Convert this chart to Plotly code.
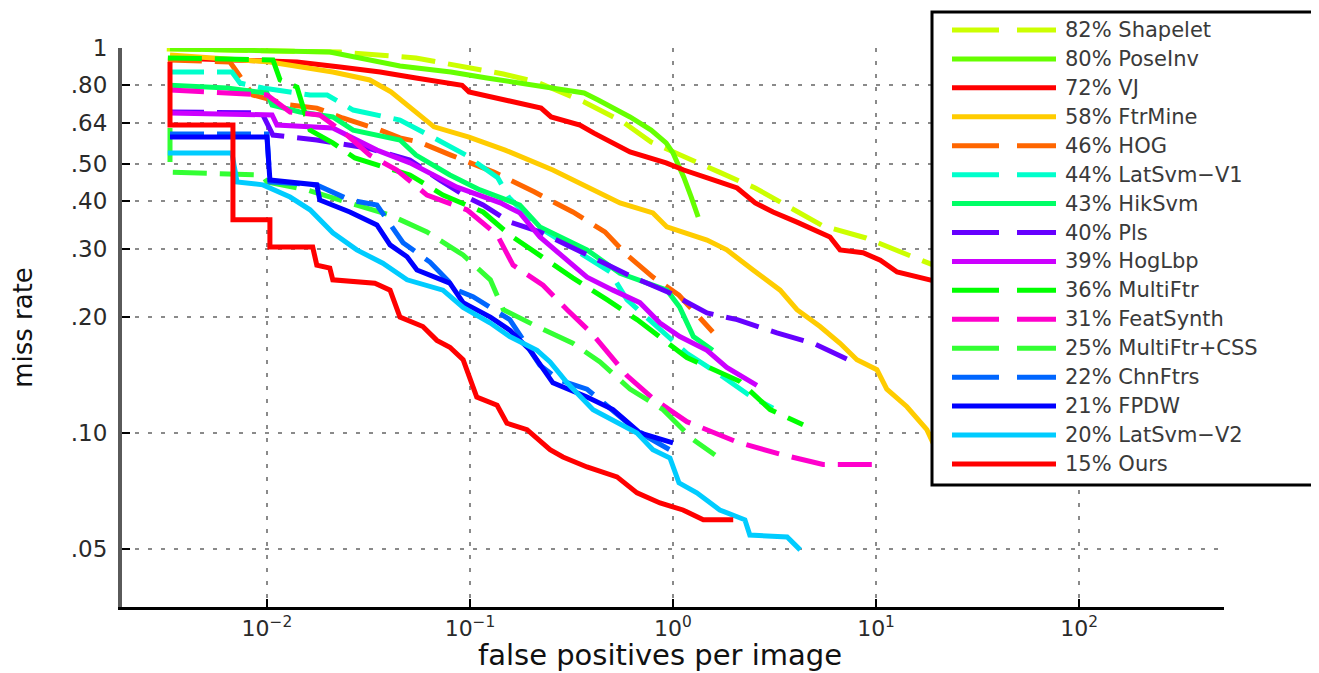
import plotly.graph_objects as go

# ---------------- data ----------------
methods = ["Shapelet", "PoseInv", "VJ", "FtrMine", "HOG", "LatSvm\u2212V1", "HikSvm", "Pls",
           "HogLbp", "MultiFtr", "FeatSynth", "MultiFtr+CSS", "ChnFtrs", "FPDW", "LatSvm\u2212V2", "Ours"]
avg_miss = [82, 80, 72, 58, 46, 44, 43, 40, 39, 36, 31, 25, 22, 21, 20, 15]
colors = ["#ccff00", "#66ff00", "#ff0000", "#ffcc00", "#ff6600", "#00ffcc", "#00ff66", "#6600ff",
          "#cc00ff", "#00ff00", "#ff00cc", "#33ff33", "#0066ff", "#0000ff", "#00ccff", "#ff0000"]
dashed = [True, False, False, False, True, True, False, True,
          False, True, True, True, True, False, False, False]

shapelet_fppi = [0.00321, 0.0229, 0.0542, 0.146, 0.214, 0.365, 0.568, 0.780, 1.69, 2.54, 3.65, 5.48, 8.93, 19.5]
shapelet_mr = [0.994, 0.976, 0.942, 0.856, 0.816, 0.724, 0.642, 0.570, 0.476, 0.433, 0.389, 0.345, 0.321, 0.272]

poseinv_fppi = [0.00333, 0.0204, 0.0452, 0.0805, 0.121, 0.198, 0.365, 0.428, 0.614, 0.780, 0.925, 1.00, 1.13, 1.23, 1.33]
poseinv_mr = [0.995, 0.976, 0.898, 0.866, 0.836, 0.801, 0.764, 0.733, 0.662, 0.612, 0.567, 0.534, 0.462, 0.410, 0.364]

vj_fppi = [0.00333, 0.01406, 0.0229, 0.0361, 0.0542, 0.0914, 0.0989, 0.149, 0.224, 0.251, 0.348, 0.408, 0.501, 0.614,
           0.925, 1.13, 1.69, 2.07, 2.54, 3.11, 4.08, 4.90, 5.93, 6.65, 8.63, 10.5, 12.7, 19.5]
vj_mr = [0.942, 0.920, 0.893, 0.866, 0.836, 0.800, 0.769, 0.733, 0.698, 0.662, 0.631, 0.601, 0.567, 0.537,
         0.503, 0.482, 0.449, 0.433, 0.396, 0.375, 0.353, 0.337, 0.323, 0.299, 0.294, 0.281, 0.262, 0.248]

ftrmine_fppi = [0.00333, 0.01034, 0.0211, 0.0321, 0.0408, 0.0542, 0.0665, 0.0989, 0.149, 0.256, 0.377, 0.548, 0.796,
                0.933, 1.47, 1.84, 2.48, 3.37, 4.08, 5.30, 6.65, 8.05, 10.1, 11.3, 14.2, 17.8, 19.5]
ftrmine_mr = [0.959, 0.920, 0.866, 0.826, 0.769, 0.678, 0.624, 0.587, 0.543, 0.482, 0.435, 0.396, 0.373,
              0.343, 0.317, 0.299, 0.265, 0.235, 0.209, 0.189, 0.171, 0.155, 0.146, 0.130, 0.117, 0.102, 0.092]

hog_fppi = [0.00325, 0.00657, 0.00712, 0.00853, 0.0130, 0.0176, 0.0236, 0.0361, 0.0452, 0.0561, 0.0805, 0.131,
            0.207, 0.321, 0.462, 0.593, 0.796, 1.07, 1.57]
hog_mr = [0.931, 0.920, 0.866, 0.755, 0.711, 0.698, 0.658, 0.612, 0.584, 0.570, 0.527, 0.476,
          0.423, 0.375, 0.333, 0.290, 0.254, 0.228, 0.183]

latsvm1_fppi = [0.00333, 0.00672, 0.00736, 0.00956, 0.0163, 0.0198, 0.0266, 0.0452, 0.0665, 0.0955, 0.137, 0.156,
                0.221, 0.377, 0.490, 0.593, 0.834, 1.17, 1.76, 2.39, 3.11]
latsvm1_mr = [0.866, 0.866, 0.811, 0.787, 0.755, 0.755, 0.690, 0.650, 0.584, 0.527, 0.460, 0.408,
              0.341, 0.287, 0.262, 0.222, 0.189, 0.161, 0.140, 0.125, 0.116]

hiksvm_fppi = [0.00333, 0.00635, 0.0100, 0.0106, 0.01455, 0.0211, 0.0266, 0.0452, 0.0542, 0.0796, 0.112, 0.176,
               0.221, 0.377, 0.548, 0.933, 1.08, 1.26, 1.57]
hiksvm_mr = [0.800, 0.787, 0.764, 0.711, 0.682, 0.662, 0.612, 0.577, 0.527, 0.468, 0.428, 0.391,
             0.343, 0.299, 0.260, 0.235, 0.212, 0.178, 0.164]

pls_fppi = [0.00333, 0.00657, 0.00945, 0.0107, 0.0176, 0.0311, 0.0506, 0.0711, 0.0966, 0.116, 0.157, 0.221,
            0.361, 0.635, 0.966, 1.47, 2.07, 3.25, 4.90, 7.71]
pls_mr = [0.682, 0.682, 0.678, 0.594, 0.577, 0.550, 0.512, 0.454, 0.410, 0.391, 0.353, 0.333,
          0.294, 0.254, 0.231, 0.205, 0.197, 0.182, 0.171, 0.153]

hoglbp_fppi = [0.00333, 0.0106, 0.0112, 0.0211, 0.0348, 0.0506, 0.0863, 0.141, 0.176, 0.221, 0.287, 0.377,
               0.506, 0.687, 0.863, 1.08, 1.47, 1.84, 2.59]
hoglbp_mr = [0.678, 0.670, 0.631, 0.620, 0.543, 0.503, 0.435, 0.396, 0.373, 0.323, 0.287, 0.254,
             0.235, 0.218, 0.193, 0.178, 0.164, 0.148, 0.133]

multiftr_fppi = [0.00325, 0.0107, 0.0116, 0.01406, 0.0163, 0.0211, 0.0271, 0.0506, 0.0736, 0.116, 0.157, 0.229,
                 0.321, 0.473, 0.665, 0.834, 1.17, 2.14, 3.01, 4.37]
multiftr_mr = [0.942, 0.931, 0.826, 0.792, 0.612, 0.567, 0.518, 0.468, 0.415, 0.375, 0.327, 0.285,
               0.253, 0.222, 0.197, 0.180, 0.157, 0.136, 0.115, 0.105]

featsynth_fppi = [0.00333, 0.0100, 0.0130, 0.0182, 0.0248, 0.0321, 0.0436, 0.0614, 0.0966, 0.136, 0.163, 0.229,
                  0.301, 0.404, 0.593, 0.796, 1.17, 2.07, 3.48, 5.48, 9.66]
featsynth_mr = [0.778, 0.755, 0.682, 0.670, 0.594, 0.527, 0.482, 0.415, 0.380, 0.327, 0.273, 0.242,
                0.209, 0.180, 0.141, 0.123, 0.107, 0.0947, 0.0877, 0.0828, 0.0828]

multiftrcss_fppi = [0.00333, 0.00333, 0.00945, 0.0100, 0.0157, 0.0256, 0.0404, 0.0614, 0.0925, 0.126, 0.146,
                    0.214, 0.321, 0.437, 0.614, 0.894, 1.26, 1.61]
multiftrcss_mr = [0.620, 0.476, 0.468, 0.449, 0.428, 0.396, 0.368, 0.333, 0.290, 0.250, 0.209,
                  0.189, 0.171, 0.153, 0.130, 0.115, 0.0960, 0.0877]

chnftrs_fppi = [0.00333, 0.0100, 0.01034, 0.0176, 0.0256, 0.0348, 0.0468, 0.0635, 0.0863, 0.1035, 0.157, 0.221,
                0.277, 0.377, 0.614, 0.745, 1.07]
chnftrs_mr = [0.598, 0.598, 0.449, 0.441, 0.403, 0.391, 0.312, 0.278, 0.235, 0.226, 0.197, 0.150,
              0.137, 0.130, 0.105, 0.0977, 0.0877]

fpdw_fppi = [0.00333, 0.0100, 0.01034, 0.0176, 0.0182, 0.0256, 0.0348, 0.0404, 0.0490, 0.0548, 0.0796, 0.0925,
             0.126, 0.157, 0.198, 0.256, 0.377, 0.506, 0.687, 1.00]
fpdw_mr = [0.587, 0.587, 0.454, 0.441, 0.403, 0.375, 0.347, 0.308, 0.287, 0.265, 0.245, 0.218,
           0.200, 0.185, 0.164, 0.135, 0.124, 0.115, 0.100, 0.0942]

latsvm2_fppi = [0.00325, 0.00672, 0.00712, 0.00956, 0.0130, 0.0163, 0.0211, 0.0277, 0.0372, 0.0490, 0.0736, 0.0925,
                0.126, 0.157, 0.214, 0.248, 0.301, 0.404, 0.665, 0.796, 0.966, 1.07, 1.31, 1.70, 2.26, 2.39, 3.65, 4.23]
latsvm2_mr = [0.534, 0.534, 0.449, 0.441, 0.410, 0.380, 0.331, 0.299, 0.276, 0.250, 0.235, 0.212,
              0.193, 0.178, 0.164, 0.153, 0.135, 0.115, 0.100, 0.0905, 0.0861, 0.0742, 0.0699, 0.0631, 0.0595,
              0.0543, 0.0537, 0.0497]

ours_fppi = [0.00333, 0.00333, 0.00680, 0.00680, 0.01034, 0.01034, 0.0168, 0.0176, 0.0204, 0.0211, 0.0340, 0.0404,
             0.0452, 0.0586, 0.0687, 0.0796, 0.0925, 0.108, 0.136, 0.152, 0.191, 0.248, 0.287, 0.377, 0.530, 0.665,
             0.863, 1.12, 1.41, 1.98]
ours_mr = [0.920, 0.631, 0.631, 0.358, 0.358, 0.304, 0.304, 0.273, 0.268, 0.250, 0.245, 0.235,
           0.200, 0.189, 0.174, 0.167, 0.155, 0.124, 0.118, 0.106, 0.102, 0.0905, 0.0866, 0.0816, 0.0769, 0.0699,
           0.0658, 0.0631, 0.0595, 0.0595]

xtick_vals = [0.01, 0.1, 1, 10, 100]
xtick_text = ["10<sup>\u22122</sup>", "10<sup>\u22121</sup>", "10<sup>0</sup>", "10<sup>1</sup>", "10<sup>2</sup>"]
ytick_vals = [0.05, 0.10, 0.20, 0.30, 0.40, 0.50, 0.64, 0.80, 1.0]
ytick_text = [".05", ".10", ".20", ".30", ".40", ".50", ".64", ".80", "1"]
x_title = "false positives per image"
y_title = "miss rate"

series_x = [shapelet_fppi, poseinv_fppi, vj_fppi, ftrmine_fppi, hog_fppi, latsvm1_fppi, hiksvm_fppi, pls_fppi,
            hoglbp_fppi, multiftr_fppi, featsynth_fppi, multiftrcss_fppi, chnftrs_fppi, fpdw_fppi, latsvm2_fppi,
            ours_fppi]
series_y = [shapelet_mr, poseinv_mr, vj_mr, ftrmine_mr, hog_mr, latsvm1_mr, hiksvm_mr, pls_mr,
            hoglbp_mr, multiftr_mr, featsynth_mr, multiftrcss_mr, chnftrs_mr, fpdw_mr, latsvm2_mr, ours_mr]

# ---------------- figure ----------------
FONT = "DejaVu Sans"
PLOT_DASH = "34px,13px"
LEG_DASH = "47px,18px"

# the page body adds an 8px margin at top/left; the figure reaches the window's right/bottom edges
PAGE = 8
W, H = 1319 - PAGE, 673 - PAGE
ML, MT = 122 - PAGE, 48 - PAGE
MR, MB = W - (1224 - PAGE), H - (607 - PAGE)
pw, ph = W - ML - MR, H - MT - MB


def px2paper_x(px):
    # px given in window pixels
    return (px - PAGE - ML) / pw


def px2paper_y(py):
    return (H - MB - (py - PAGE)) / ph


fig = go.Figure()
for i in range(len(methods)):
    fig.add_trace(go.Scatter(
        x=series_x[i], y=series_y[i], mode="lines",
        name=f"{avg_miss[i]}% {methods[i]}",
        line=dict(color=colors[i], width=5, dash=PLOT_DASH if dashed[i] else "solid"),
        showlegend=False, hoverinfo="skip"))

# manual legend (box + long sample lines + labels)
shapes = [dict(type="rect", xref="paper", yref="paper", layer="above",
               x0=px2paper_x(932), x1=px2paper_x(1330), y0=px2paper_y(485), y1=px2paper_y(12),
               fillcolor="white", line=dict(color="black", width=3))]
annotations = []
for i in range(len(methods)):
    yy = px2paper_y(30 + 28.93 * i)
    shapes.append(dict(type="line", xref="paper", yref="paper", layer="above",
                       x0=px2paper_x(952), x1=px2paper_x(1056), y0=yy, y1=yy,
                       line=dict(color=colors[i], width=5, dash=LEG_DASH if dashed[i] else "solid")))
    annotations.append(dict(xref="paper", yref="paper", x=px2paper_x(1063), y=yy, xanchor="left",
                            yanchor="middle", showarrow=False, text=f"{avg_miss[i]}% {methods[i]}",
                            font=dict(family=FONT, size=21, color="#3a3a3a")))

# x-axis title placed as an annotation under the tick labels
annotations.append(dict(xref="paper", yref="paper", x=px2paper_x(660), y=px2paper_y(655),
                        xanchor="center", yanchor="middle", showarrow=False, text=x_title,
                        font=dict(family=FONT, size=29, color="#111111")))

fig.update_layout(
    width=W, height=H, margin=dict(l=ML, r=MR, t=MT, b=MB, autoexpand=False),
    plot_bgcolor="white", paper_bgcolor="white", showlegend=False,
    font=dict(family=FONT, color="#222222"),
    shapes=shapes, annotations=annotations,
)
fig.update_xaxes(
    type="log", range=[-2.714, 2.714], tickmode="array", tickvals=xtick_vals, ticktext=xtick_text,
    showgrid=True, gridcolor="#8a8a8a", gridwidth=1.5, griddash="4px,9px",
    showline=True, linecolor="black", linewidth=3, mirror=False, zeroline=False, automargin=False,
    ticks="inside", ticklen=8, tickwidth=2, tickcolor="black", ticklabelstandoff=0,
    tickfont=dict(family=FONT, size=22, color="#2a2a2a"),
)
fig.update_yaxes(
    type="log", range=[-1.452, 0], tickmode="array", tickvals=ytick_vals, ticktext=ytick_text,
    showgrid=True, gridcolor="#8a8a8a", gridwidth=1.5, griddash="4px,9px",
    showline=True, linecolor="#5a5a5a", linewidth=4, mirror=False, zeroline=False, automargin=False,
    ticks="inside", ticklen=8, tickwidth=2, tickcolor="black", ticklabelstandoff=6,
    tickfont=dict(family=FONT, size=23, color="#2a2a2a"),
    title=dict(text=y_title, font=dict(family=FONT, size=26, color="#111111"), standoff=36),
)

fig.write_html("out.html")
